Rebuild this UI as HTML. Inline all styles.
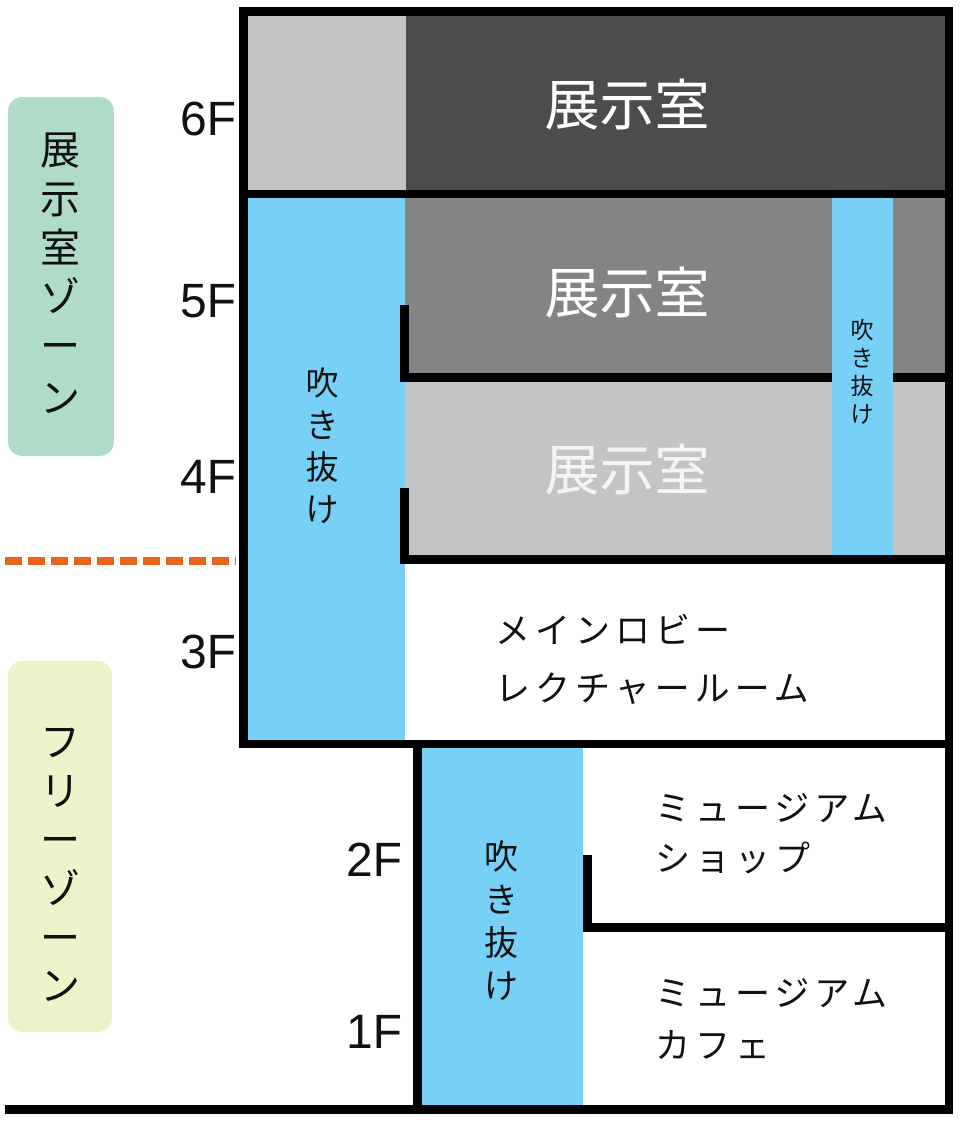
<!DOCTYPE html>
<html><head><meta charset="utf-8"><style>
html,body{margin:0;padding:0;background:#fff;}
svg{display:block;}
text{font-family:"Liberation Sans","Noto Sans CJK JP",sans-serif;}
</style></head><body>
<svg width="964" height="1124" viewBox="0 0 964 1124" xmlns="http://www.w3.org/2000/svg">
<rect x="8" y="97" width="106" height="359" rx="14" fill="#afdcc8"/>
<rect x="8" y="661" width="104" height="371" rx="14" fill="#eef3cc"/>
<g font-size="40" fill="#111" text-anchor="middle">
<text x="60" y="164">展</text><text x="60" y="213">示</text><text x="60" y="262">室</text>
<text x="60" y="311">ゾ</text><text x="60" y="360">ー</text><text x="60" y="412">ン</text>
</g>
<g font-size="40" fill="#111" text-anchor="middle">
<text x="60" y="756">フ</text><text x="60" y="805">リ</text><text x="60" y="854">ー</text>
<text x="60" y="903">ゾ</text><text x="60" y="952">ー</text><text x="60" y="1000">ン</text>
</g>
<line x1="5" y1="561" x2="236" y2="561" stroke="#e8651a" stroke-width="8" stroke-dasharray="17,6"/>
<g font-size="48" fill="#111" text-anchor="end">
<text x="236" y="135">6F</text><text x="236" y="317">5F</text><text x="236" y="493">4F</text>
<text x="236" y="668">3F</text><text x="402" y="876">2F</text><text x="402" y="1048">1F</text>
</g>
<rect x="248" y="16" width="158" height="175" fill="#c2c4c5"/>
<rect x="406" y="16" width="540" height="175" fill="#4a4c4d"/>
<rect x="248" y="198" width="157" height="542" fill="#77d0f5"/>
<rect x="405" y="198" width="540" height="176" fill="#858485"/>
<rect x="405" y="382" width="540" height="174" fill="#c2c4c5"/>
<rect x="832" y="198" width="61" height="358" fill="#77d0f5"/>
<rect x="422" y="748" width="161" height="358" fill="#77d0f5"/>
<g fill="#000">
<rect x="239" y="7" width="714" height="9"/>
<rect x="239" y="7" width="9" height="741"/>
<rect x="945" y="7" width="8" height="1107"/>
<rect x="239" y="190" width="714" height="8"/>
<rect x="400" y="373" width="432" height="9"/>
<rect x="893" y="373" width="60" height="9"/>
<rect x="400" y="305" width="9" height="77"/>
<rect x="400" y="555" width="553" height="9"/>
<rect x="400" y="488" width="9" height="76"/>
<rect x="239" y="740" width="714" height="8"/>
<rect x="413" y="748" width="9" height="366"/>
<rect x="5" y="1105" width="948" height="9"/>
<rect x="583" y="855" width="9" height="77"/>
<rect x="583" y="923" width="370" height="9"/>
</g>
<g font-size="55" text-anchor="middle">
<text x="627" y="125" fill="#fff">展示室</text>
<text x="627" y="313" fill="#fff">展示室</text>
<text x="627" y="490" fill="#f4f4f4">展示室</text>
</g>
<g font-size="33" fill="#111" text-anchor="middle">
<text x="322" y="395">吹</text><text x="322" y="437">き</text><text x="322" y="479">抜</text><text x="322" y="521">け</text>
</g>
<g font-size="23" fill="#111" text-anchor="middle">
<text x="862" y="338">吹</text><text x="862" y="366">き</text><text x="862" y="394">抜</text><text x="862" y="422">け</text>
</g>
<g font-size="34" fill="#111" text-anchor="middle">
<text x="501" y="869">吹</text><text x="501" y="912">き</text><text x="501" y="955">抜</text><text x="501" y="998">け</text>
</g>
<g font-size="35" fill="#111" letter-spacing="5">
<text x="495" y="643">メインロビー</text>
<text x="495" y="701">レクチャールーム</text>
<text x="655" y="821">ミュージアム</text>
<text x="655" y="871">ショップ</text>
<text x="655" y="1006">ミュージアム</text>
<text x="655" y="1058">カフェ</text>
</g>
</svg>
</body></html>
